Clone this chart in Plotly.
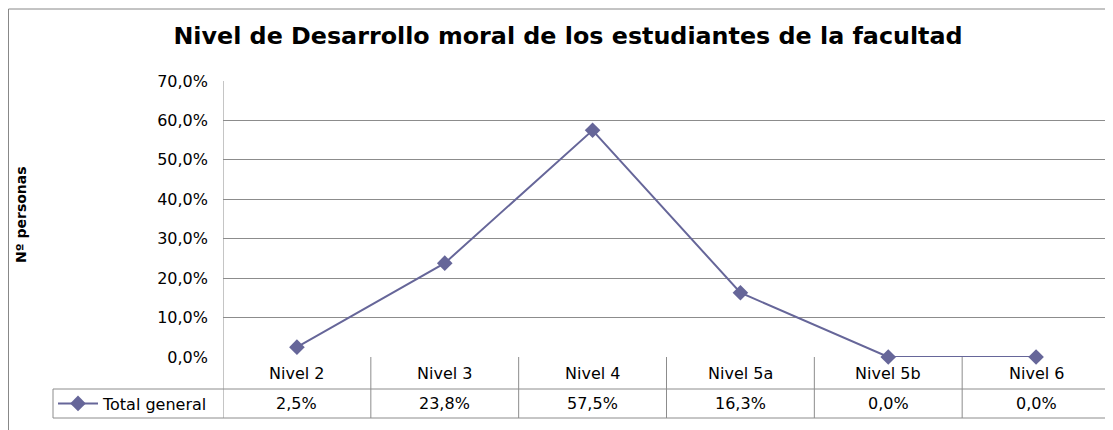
import plotly.graph_objects as go

categories = ["Nivel 2", "Nivel 3", "Nivel 4", "Nivel 5a", "Nivel 5b", "Nivel 6"]
values = [0.025, 0.238, 0.575, 0.163, 0.0, 0.0]
series_name = "Total general"
title_text = "Nivel de Desarrollo moral de los estudiantes de la facultad"
y_title = "Nº personas"

# page body has an 8px margin; lay out in reference pixel coords and shift
OFF = 8
W, H = 1113 - OFF, 430 - OFF
PLOT_L, PLOT_R, PLOT_T, PLOT_B = 223, 1110, 81, 357  # reference pixel coords
L = PLOT_L - OFF
T = PLOT_T - OFF
R = W - (PLOT_R - OFF)
B = H - (PLOT_B - OFF)
pw, ph = W - L - R, H - T - B

FONT = "DejaVu Sans"
LINE_COL = "#666699"
GRID_COL = "#8c8c8c"
TXT = "#000000"
FS = 16

def py_(py):  # reference pixel y -> paper y
    return (PLOT_B - py) / ph

def px_(px):  # reference pixel x -> paper x
    return (px - PLOT_L) / pw

fig = go.Figure()
fig.add_trace(go.Scatter(
    x=categories, y=values, mode="lines+markers", name=series_name,
    line=dict(color=LINE_COL, width=2),
    marker=dict(symbol="diamond", size=12, color=LINE_COL),
    cliponaxis=False, showlegend=True,
))

def fmt(v):
    return f"{v*100:.1f}%".replace(".", ",")

shapes = []
annotations = []
row1_top, row1_bot, row2_bot = 357, 389, 418
n = len(categories)
for i in range(n + 1):
    shapes.append(dict(type="line", xref="x", yref="paper", x0=i - 0.5, x1=i - 0.5,
                       y0=py_(row2_bot), y1=py_(row1_top) if i > 0 else 1.0,
                       line=dict(color=GRID_COL, width=1)))
for yy in (row1_bot, row2_bot):
    shapes.append(dict(type="line", xref="paper", yref="paper", x0=px_(53), x1=1.0,
                       y0=py_(yy), y1=py_(yy), line=dict(color=GRID_COL, width=1)))
shapes.append(dict(type="line", xref="paper", yref="paper", x0=px_(53), x1=px_(53),
                   y0=py_(row1_bot), y1=py_(row2_bot), line=dict(color=GRID_COL, width=1)))
# outer chart frame
shapes.append(dict(type="rect", xref="paper", yref="paper", x0=px_(8.5), x1=px_(1130),
                   y0=py_(450), y1=py_(9), line=dict(color="#888888", width=1), layer="below"))

for c, v in zip(categories, values):
    annotations.append(dict(x=c, xref="x", yref="paper", y=py_((row1_top + row1_bot) / 2),
                            text=c, showarrow=False, font=dict(family=FONT, size=FS, color=TXT),
                            xanchor="center", yanchor="middle"))
    annotations.append(dict(x=c, xref="x", yref="paper", y=py_((row1_bot + row2_bot) / 2),
                            text=fmt(v), showarrow=False, font=dict(family=FONT, size=FS, color=TXT),
                            xanchor="center", yanchor="middle"))

annotations.append(dict(x=px_(21), xref="paper", y=py_(215), yref="paper", text=f"<b>{y_title}</b>",
                        textangle=-90, showarrow=False, font=dict(family=FONT, size=14, color=TXT),
                        xanchor="center", yanchor="middle"))

fig.update_layout(
    width=W, height=H,
    margin=dict(l=L, r=R, t=T, b=B),
    paper_bgcolor="white", plot_bgcolor="white",
    separators=",.",
    title=dict(text=f"<b>{title_text}</b>", x=(568 - OFF) / W, xref="container", xanchor="center",
               y=1 - (36 - OFF) / H, yref="container", yanchor="middle",
               font=dict(family=FONT, size=23.8, color=TXT)),
    xaxis=dict(type="category", range=[-0.5, n - 0.5], showticklabels=False, showgrid=False,
               zeroline=False, showline=False, ticks=""),
    yaxis=dict(range=[0, 0.7], dtick=0.1, tickformat=".1%", showgrid=True, gridcolor=GRID_COL,
               gridwidth=1, zeroline=False, showline=False, ticks="", ticklabelstandoff=14,
               tickfont=dict(family=FONT, size=FS, color=TXT)),
    legend=dict(x=px_(53), y=py_(403.5), xanchor="left", yanchor="middle", xref="paper", yref="paper",
                bgcolor="rgba(0,0,0,0)", borderwidth=0, font=dict(family=FONT, size=FS, color=TXT),
                itemwidth=40),
    shapes=shapes, annotations=annotations,
)
fig.write_html("out.html")
